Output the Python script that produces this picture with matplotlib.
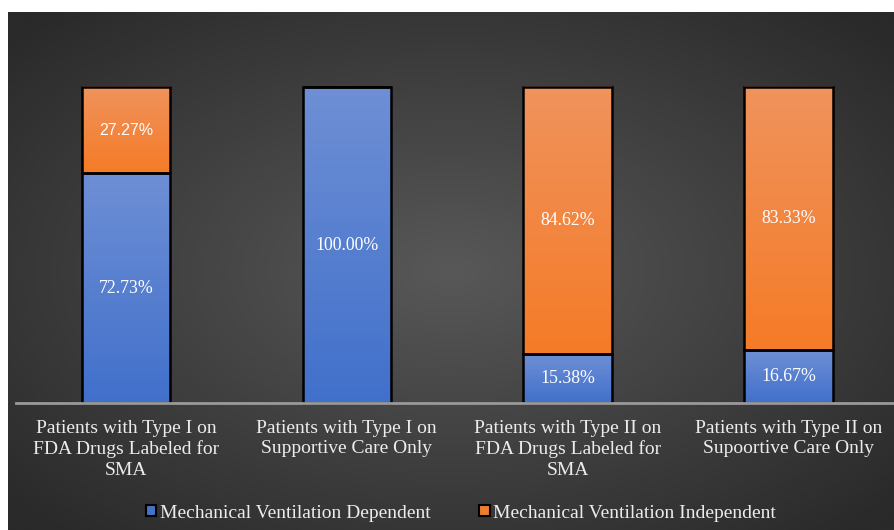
import numpy as np
import matplotlib
matplotlib.use("Agg")
import matplotlib.pyplot as plt
from matplotlib.colors import LinearSegmentedColormap
from matplotlib.patches import Rectangle

categories = [
    "Patients with Type I on\nFDA Drugs Labeled for\nSMA",
    "Patients with Type I on\nSupportive Care Only",
    "Patients with Type II on\nFDA Drugs Labeled for\nSMA",
    "Patients with Type II on\nSupoortive Care Only",
]
dependent = [72.73, 100.00, 15.38, 16.67]
independent = [27.27, 0.0, 84.62, 83.33]
series_names = ["Mechanical Ventilation Dependent", "Mechanical Ventilation Independent"]

W, H = 894, 530
fig = plt.figure(figsize=(W / 100, H / 100), dpi=100)
fig.patch.set_facecolor("white")

# dark radial-gradient panel behind the plot
bg = fig.add_axes([8 / W, 0, (W - 8) / W, (H - 12) / H])
yy, xx = np.mgrid[-1:1:300j, -1:1:500j]
r = np.clip(np.sqrt(xx ** 2 + yy ** 2) / 1.35, 0, 1)
bg_cmap = LinearSegmentedColormap.from_list("bg", ["#585858", "#2a2a2a"])
bg.imshow(r, cmap=bg_cmap, aspect="auto", extent=[0, 1, 0, 1], vmin=0, vmax=1)
bg.set_axis_off()

# plot axes: baseline at y=403px, 100% at y=87px
x_left_px, x_right_px = 16, 894
ax = fig.add_axes([x_left_px / W, (H - 403) / H, (x_right_px - x_left_px) / W, (403 - 87) / H])
ax.patch.set_alpha(0)
unit = 220.8
xlim = ((x_left_px - 126) / unit, (x_right_px - 126) / unit)

x = np.arange(len(categories))
width = 0.40

blue_cmap = LinearSegmentedColormap.from_list("blue", ["#4170cb", "#6e8fd5"])
orange_cmap = LinearSegmentedColormap.from_list("orange", ["#f57b27", "#f0935d"])

bars_dep = ax.bar(x, dependent, width, facecolor="none", edgecolor="black", linewidth=1.8,
                  clip_on=False, zorder=3, label=series_names[0])
bars_ind = ax.bar(x, independent, width, bottom=dependent, facecolor="none", edgecolor="black",
                  linewidth=1.8, clip_on=False, zorder=3, label=series_names[1])

grad = np.linspace(0, 1, 256).reshape(-1, 1)
for bars, cmap in ((bars_dep, blue_cmap), (bars_ind, orange_cmap)):
    for p in bars:
        h = p.get_height()
        if h <= 0:
            continue
        x0, y0 = p.get_x(), p.get_y()
        im = ax.imshow(grad, cmap=cmap, origin="lower", aspect="auto",
                       extent=[x0, x0 + p.get_width(), y0, y0 + h], zorder=2, clip_on=False)
        im.set_clip_path(p)

ax.set_xlim(*xlim)
ax.set_ylim(0, 100)
for s in ax.spines.values():
    s.set_visible(False)
ax.axhline(0, color="#9a9a9a", linewidth=2, zorder=4, clip_on=False)
ax.set_yticks([])
ax.set_xticks(x)
ax.set_xticklabels(categories, color="#ececec", fontsize=14, family="Liberation Serif",
                   linespacing=1.26)
ax.tick_params(axis="x", length=0, pad=12)

# values centred in each segment
for i in range(len(categories)):
    if dependent[i] > 0:
        ax.text(x[i], dependent[i] / 2, f"{dependent[i]:.2f}%", ha="center", va="center",
                color="white", fontsize=12.8, family="Liberation Serif", zorder=5)
    if independent[i] > 0:
        if i == 0:
            fam, fs = "Liberation Sans", 11.5
        else:
            fam, fs = "Liberation Serif", 12.8
        ax.text(x[i], dependent[i] + independent[i] / 2, f"{independent[i]:.2f}%",
                ha="center", va="center", color="white", fontsize=fs, family=fam, zorder=5)

handles = [Rectangle((0, 0), 1, 1, facecolor="#4472c4", edgecolor="black", linewidth=1.5),
           Rectangle((0, 0), 1, 1, facecolor="#ed7d31", edgecolor="black", linewidth=1.5)]
leg = fig.legend(handles, series_names, loc="center", bbox_to_anchor=(461 / W, (H - 513) / H),
                 ncol=2, frameon=False, handlelength=0.55, handleheight=0.55, handletextpad=0.18,
                 columnspacing=2.5, borderpad=0, prop={"family": "Liberation Serif", "size": 14})
for t in leg.get_texts():
    t.set_color("#ececec")

fig.savefig("out.png", dpi=100, facecolor=fig.get_facecolor())
